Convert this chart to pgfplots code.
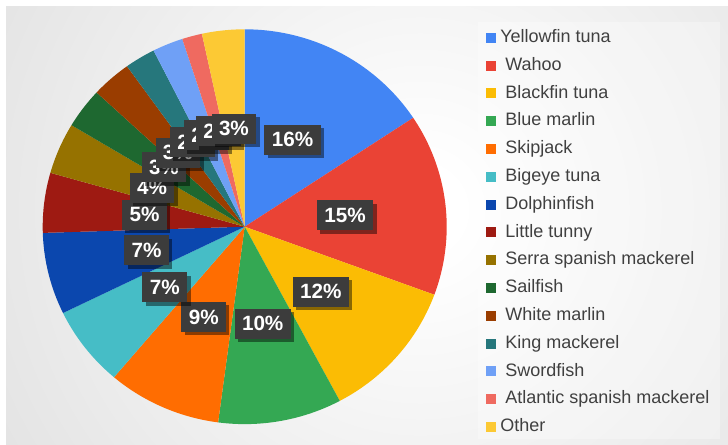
\documentclass[border=0pt]{standalone}
\usepackage{fontspec}
\setmainfont{Liberation Sans}
\usepackage{pgfplots}
\usepackage{pgfplotstable}
\pgfplotsset{compat=1.18}
\usetikzlibrary{shadows}

\definecolor{c0}{HTML}{4285F4}
\definecolor{c1}{HTML}{EA4335}
\definecolor{c2}{HTML}{FBBC04}
\definecolor{c3}{HTML}{34A853}
\definecolor{c4}{HTML}{FF6D01}
\definecolor{c5}{HTML}{46BDC6}
\definecolor{c6}{HTML}{0B47AE}
\definecolor{c7}{HTML}{9E1A12}
\definecolor{c8}{HTML}{967200}
\definecolor{c9}{HTML}{1E6830}
\definecolor{c10}{HTML}{9A3D00}
\definecolor{c11}{HTML}{26777C}
\definecolor{c12}{HTML}{6FA0F6}
\definecolor{c13}{HTML}{EF6A60}
\definecolor{c14}{HTML}{FCC934}
\definecolor{bggray}{HTML}{C2C2C2}
\definecolor{lblgray}{HTML}{3C3C3C}
\definecolor{legtext}{HTML}{404040}

\tikzset{lbl/.style={fill=lblgray, text=white, font=\bfseries\fontsize{15.5}{17}\selectfont,
    inner xsep=5.6pt, inner ysep=0pt, minimum height=22.5pt,
    drop shadow={shadow xshift=2.5pt, shadow yshift=-2.5pt, opacity=0.45, fill=black}}}

\pgfdeclareradialshading{bgshade}{\pgfpoint{0bp}{0bp}}{color(0bp)=(white); color(2bp)=(white); color(50bp)=(bggray)}

\pgfplotstableread[col sep=comma]{
name,val,lab
Yellowfin tuna,15.7,16
Wahoo,14.9,15
Blackfin tuna,11.6,12
Blue marlin,9.9,10
Skipjack,9.1,9
Bigeye tuna,6.6,7
Dolphinfish,6.7,7
Little tunny,4.9,5
Serra spanish mackerel,4.2,4
Sailfish,3.3,3
White marlin,3.2,3
King mackerel,2.45,2
Swordfish,2.45,2
Atlantic spanish mackerel,1.6,2
Other,3.4,3
}\piedata

\def\cx{244.7}
\def\cy{226.7}
\def\rx{202}
\def\ry{197.4}

\begin{document}
\begin{tikzpicture}
\begin{scope}[x=0.75pt,y=-0.75pt]
  \fill[white] (0,0) rectangle (728,445);
  \begin{scope}
    \clip (6,7) rectangle (728,445);
    \fill[bggray] (6,7) rectangle (728,445);
    \shade[shading=bgshade] (420,210) circle (382pt);
  \end{scope}
  \fill[white,opacity=0.3] (478,22) rectangle (720,439);
\end{scope}
\begin{axis}[
  at={(0pt,0pt)}, anchor=north west,
  scale only axis, width=546pt, height=333.75pt,
  xmin=0, xmax=728, ymin=0, ymax=445, y dir=reverse,
  hide axis, clip=false,
  legend image code/.code={\fill[#1] (0pt,-3.75pt) rectangle (7.5pt,3.75pt);},
  legend style={at={(axis cs:486,28.8)}, anchor=north west, draw=none, fill=none,
    inner sep=0pt, font=\fontsize{13.5}{16}\selectfont, text=legtext,
    row sep=7.85pt, column sep=6.75pt,
    nodes={inner sep=0pt, text height=10pt, text depth=3pt}},
  legend cell align=left,
]
\pgfmathsetmacro{\cum}{0}
\pgfplotsforeachungrouped \i in {0,...,14}{%
  \pgfplotstablegetelem{\i}{val}\of\piedata \let\v\pgfplotsretval
  \pgfplotstablegetelem{\i}{name}\of\piedata \let\nm\pgfplotsretval
  \pgfmathsetmacro{\ta}{3.6*\cum}
  \pgfmathsetmacro{\cum}{\cum+\v}
  \pgfmathsetmacro{\tb}{3.6*\cum}
  \ifnum\i=0 \def\sh{\noexpand\hspace*{-3.75pt}}\else\ifnum\i=14 \def\sh{\noexpand\hspace*{-3.75pt}}\else\def\sh{}\fi\fi
  \edef\temp{%
    \noexpand\addplot[draw=none, fill=c\i, domain=\ta:\tb, samples=60, variable=\noexpand\t]
      ({\cx+\rx*sin(\noexpand\t)}, {\cy-\ry*cos(\noexpand\t)}) -- (axis cs:\cx,\cy) -- cycle;
    \noexpand\addlegendentry{\sh\nm}%
  }\temp
}
\pgfmathsetmacro{\cum}{0}
\pgfplotsforeachungrouped \i in {0,...,14}{%
  \pgfplotstablegetelem{\i}{val}\of\piedata \let\v\pgfplotsretval
  \pgfplotstablegetelem{\i}{lab}\of\piedata \let\lb\pgfplotsretval
  \pgfmathsetmacro{\ta}{3.6*\cum}
  \pgfmathsetmacro{\cum}{\cum+\v}
  \pgfmathsetmacro{\tm}{3.6*\cum/2+\ta/2}
  \pgfmathsetmacro{\lx}{\cx+0.5*\rx*sin(\tm)}
  \pgfmathsetmacro{\ly}{\cy-0.5*\ry*cos(\tm)}
  \edef\temp{%
    \noexpand\node[lbl] at (axis cs:\lx,\ly) {\lb\noexpand\%};%
  }\temp
}
\end{axis}
\begin{scope}[x=0.75pt,y=-0.75pt]
  \pgfresetboundingbox
  \useasboundingbox (0,0) rectangle (728,445);
\end{scope}
\end{tikzpicture}
\end{document}
